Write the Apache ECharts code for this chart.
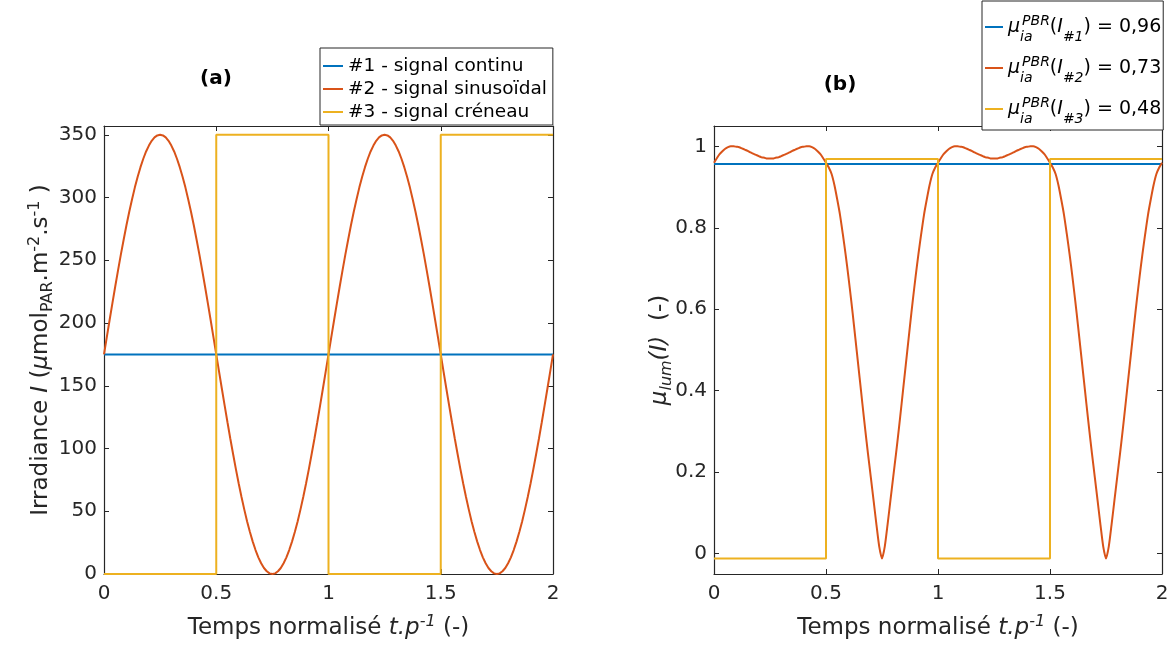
<!DOCTYPE html>
<html>
<head>
<meta charset="utf-8">
<script src="https://cdn.jsdelivr.net/npm/echarts@6/dist/echarts.min.js"></script>
<style>
html,body{margin:0;padding:0;background:#fff;}
#chart{width:1173px;height:646px;}
</style>
</head>
<body>
<div id="chart"></div>
<script>
// ---------- data ----------
const tGrid = [
0,0.0125,0.025,0.0375,0.05,0.0625,0.075,0.0875,0.1,0.1125,0.125,0.1375,0.15,0.1625,0.175,0.1875,0.2,0.2125,0.225,0.2375,
0.25,0.2625,0.275,0.2875,0.3,0.3125,0.325,0.3375,0.35,0.3625,0.375,0.3875,0.4,0.4125,0.425,0.4375,0.45,0.4625,0.475,0.4875,
0.5,0.5125,0.525,0.5375,0.55,0.5625,0.575,0.5875,0.6,0.6125,0.625,0.6375,0.65,0.6625,0.675,0.6875,0.7,0.7125,0.725,0.7375,
0.75,0.7625,0.775,0.7875,0.8,0.8125,0.825,0.8375,0.85,0.8625,0.875,0.8875,0.9,0.9125,0.925,0.9375,0.95,0.9625,0.975,0.9875,
1,1.0125,1.025,1.0375,1.05,1.0625,1.075,1.0875,1.1,1.1125,1.125,1.1375,1.15,1.1625,1.175,1.1875,1.2,1.2125,1.225,1.2375,
1.25,1.2625,1.275,1.2875,1.3,1.3125,1.325,1.3375,1.35,1.3625,1.375,1.3875,1.4,1.4125,1.425,1.4375,1.45,1.4625,1.475,1.4875,
1.5,1.5125,1.525,1.5375,1.55,1.5625,1.575,1.5875,1.6,1.6125,1.625,1.6375,1.65,1.6625,1.675,1.6875,1.7,1.7125,1.725,1.7375,
1.75,1.7625,1.775,1.7875,1.8,1.8125,1.825,1.8375,1.85,1.8625,1.875,1.8875,1.9,1.9125,1.925,1.9375,1.95,1.9625,1.975,1.9875,
2];

// (a) irradiance, #2 sinusoidal signal
const irrSinus = [
175,188.7,202.4,215.9,229.1,242,254.5,266.4,277.9,288.7,298.7,308.1,316.6,324.2,330.9,336.7,341.4,345.2,347.9,349.5,
350,349.5,347.9,345.2,341.4,336.7,330.9,324.2,316.6,308.1,298.7,288.7,277.9,266.4,254.5,242,229.1,215.9,202.4,188.7,
175,161.3,147.6,134.2,120.9,108,95.6,83.6,72.1,61.4,51.3,41.9,33.4,25.8,19.1,13.3,8.6,4.8,2.2,0.5,
0,0.5,2.2,4.8,8.6,13.3,19.1,25.8,33.4,41.9,51.3,61.4,72.1,83.6,95.6,108,120.9,134.2,147.6,161.3,
175,188.7,202.4,215.9,229.1,242,254.5,266.4,277.9,288.7,298.7,308.1,316.6,324.2,330.9,336.7,341.4,345.2,347.9,349.5,
350,349.5,347.9,345.2,341.4,336.7,330.9,324.2,316.6,308.1,298.7,288.7,277.9,266.4,254.5,242,229.1,215.9,202.4,188.7,
175,161.3,147.6,134.2,120.9,108,95.6,83.6,72.1,61.4,51.3,41.9,33.4,25.8,19.1,13.3,8.6,4.8,2.2,0.5,
0,0.5,2.2,4.8,8.6,13.3,19.1,25.8,33.4,41.9,51.3,61.4,72.1,83.6,95.6,108,120.9,134.2,147.6,161.3,
175];

// (b) growth rate for the sinusoidal signal
const muSinus = [
0.960,0.971,0.981,0.988,0.994,0.998,1.000,1.000,0.999,0.998,0.995,0.992,0.989,0.985,0.982,0.979,0.976,0.973,0.972,0.970,
0.970,0.970,0.972,0.973,0.976,0.979,0.982,0.985,0.989,0.992,0.995,0.998,0.999,1.000,1.000,0.998,0.994,0.988,0.981,0.971,
0.960,0.948,0.932,0.905,0.870,0.832,0.785,0.735,0.680,0.622,0.560,0.496,0.432,0.368,0.305,0.245,0.188,0.130,0.072,0.018,
-0.012,0.018,0.072,0.130,0.188,0.245,0.305,0.368,0.432,0.496,0.560,0.622,0.680,0.735,0.785,0.832,0.870,0.905,0.932,0.948,
0.960,0.971,0.981,0.988,0.994,0.998,1.000,1.000,0.999,0.998,0.995,0.992,0.989,0.985,0.982,0.979,0.976,0.973,0.972,0.970,
0.970,0.970,0.972,0.973,0.976,0.979,0.982,0.985,0.989,0.992,0.995,0.998,0.999,1.000,1.000,0.998,0.994,0.988,0.981,0.971,
0.960,0.948,0.932,0.905,0.870,0.832,0.785,0.735,0.680,0.622,0.560,0.496,0.432,0.368,0.305,0.245,0.188,0.130,0.072,0.018,
-0.012,0.018,0.072,0.130,0.188,0.245,0.305,0.368,0.432,0.496,0.560,0.622,0.680,0.735,0.785,0.832,0.870,0.905,0.932,0.948,
0.960];

// constant signal
const constT = [0, 2];
const irrConst = [175, 175];
const muConst = [0.957, 0.957];

// square signal
const squareT = [0, 0.5, 0.5, 1, 1, 1.5, 1.5, 2];
const irrSquare = [0, 0, 350, 350, 0, 0, 350, 350];
const muSquare = [-0.012, -0.012, 0.969, 0.969, -0.012, -0.012, 0.969, 0.969];

const xTicks = [0, 0.5, 1, 1.5, 2];
const yTicksA = [0, 50, 100, 150, 200, 250, 300, 350];
const yTicksB = [0, 0.2, 0.4, 0.6, 0.8, 1];

const legendA = ['#1 - signal continu', '#2 - signal sinusoïdal', '#3 - signal créneau'];
const legendBKeys = ['mu1', 'mu2', 'mu3'];
const legendBIndex = ['#1', '#2', '#3'];
const legendBValues = ['0,96', '0,73', '0,48'];

// ---------- chart ----------
const FONT = 'DejaVu Sans';
const AX = '#262626';
const C1 = '#0072BD', C2 = '#D95319', C3 = '#EDB120';

const zip = (xs, ys) => xs.map((x, i) => [x, ys[i]]);

function baseAxis(extra) {
  return Object.assign({
    type: 'value',
    nameMoveOverlap: false,
    axisLine: { show: true, onZero: false, lineStyle: { color: AX, width: 1.2 } },
    axisTick: { show: true, inside: true, length: 5, lineStyle: { color: AX, width: 1 } },
    axisLabel: { show: true, color: AX, fontFamily: FONT, fontSize: 20 },
    splitLine: { show: false }
  }, extra);
}

const nameRich = {
  n: { fontFamily: FONT, fontSize: 23, color: AX },
  i: { fontFamily: FONT, fontSize: 23, fontStyle: 'italic', color: AX },
  sub: { fontFamily: FONT, fontSize: 16, color: AX, padding: [14, 0, 0, 0] },
  subi: { fontFamily: FONT, fontSize: 16, fontStyle: 'italic', color: AX, padding: [14, 0, 0, 0] },
  sup: { fontFamily: FONT, fontSize: 16, color: AX, padding: [0, 0, 12, 0] },
  supi: { fontFamily: FONT, fontSize: 16, fontStyle: 'italic', color: AX, padding: [0, 0, 12, 0] }
};

const xName = '{n|Temps normalisé }{i|t.p}{supi|-1}{n| (-)}';

const chart = echarts.init(document.getElementById('chart'), null, { renderer: 'canvas' });

const gridA = { left: 104, right: 620, top: 126, bottom: 72 };
const gridB = { left: 714, right: 11, top: 126, bottom: 72 };

function tickCfg(vals) {
  return { show: true, inside: true, length: 5, customValues: vals, lineStyle: { color: AX, width: 1 } };
}

const option = {
  animation: false,
  backgroundColor: '#fff',
  grid: [Object.assign({ show: false }, gridA), Object.assign({ show: false }, gridB)],
  xAxis: [
    baseAxis({ gridIndex: 0, min: 0, max: 2, position: 'bottom',
      axisTick: tickCfg(xTicks),
      axisLabel: { color: AX, fontFamily: FONT, fontSize: 20, margin: 10, customValues: xTicks },
      name: xName, nameLocation: 'middle', nameGap: 40,
      nameTextStyle: { rich: nameRich } }),
    baseAxis({ gridIndex: 0, min: 0, max: 2, position: 'top',
      axisTick: tickCfg(xTicks), axisLabel: { show: false } }),
    baseAxis({ gridIndex: 1, min: 0, max: 2, position: 'bottom',
      axisTick: tickCfg(xTicks),
      axisLabel: { color: AX, fontFamily: FONT, fontSize: 20, margin: 10, customValues: xTicks },
      name: xName, nameLocation: 'middle', nameGap: 40,
      nameTextStyle: { rich: nameRich } }),
    baseAxis({ gridIndex: 1, min: 0, max: 2, position: 'top',
      axisTick: tickCfg(xTicks), axisLabel: { show: false } })
  ],
  yAxis: [
    baseAxis({ gridIndex: 0, min: 0, max: 357, position: 'left',
      axisTick: tickCfg(yTicksA),
      axisLabel: { color: AX, fontFamily: FONT, fontSize: 20, margin: 7, customValues: yTicksA },
      name: '{n|Irradiance }{i|I}{n| (}{i|μ}{n|mol}{sub|PAR}{n|.m}{sup|-2}{n|.s}{sup|-1}{n| )}',
      nameLocation: 'middle', nameRotate: 90, nameGap: 48,
      nameTextStyle: { rich: nameRich } }),
    baseAxis({ gridIndex: 0, min: 0, max: 357, position: 'right',
      axisTick: tickCfg(yTicksA), axisLabel: { show: false } }),
    baseAxis({ gridIndex: 1, min: -0.05, max: 1.05, position: 'left',
      axisTick: tickCfg(yTicksB),
      axisLabel: { color: AX, fontFamily: FONT, fontSize: 20, margin: 7, customValues: yTicksB },
      name: '{i|μ}{subi|lum}{i|(I)}{n|  (-)}',
      nameLocation: 'middle', nameRotate: 90, nameGap: 39,
      nameTextStyle: { rich: nameRich } }),
    baseAxis({ gridIndex: 1, min: -0.05, max: 1.05, position: 'right',
      axisTick: tickCfg(yTicksB), axisLabel: { show: false } })
  ],
  legend: [
    {
      data: legendA,
      orient: 'vertical',
      left: 320, top: 48,
      padding: [8, 6, 3, 3],
      itemGap: 3,
      itemWidth: 20, itemHeight: 2,
      itemTextGap: 5,
      icon: 'rect',
      selectedMode: false,
      backgroundColor: '#fff',
      borderColor: AX, borderWidth: 1, borderRadius: 0,
      textStyle: { fontFamily: FONT, fontSize: 18.5, color: '#000', lineHeight: 20 }
    },
    {
      data: legendBKeys,
      orient: 'vertical',
      left: 982, top: 1,
      padding: [6, 2, 1, 3],
      itemGap: 1,
      itemWidth: 18, itemHeight: 2,
      itemTextGap: 5,
      icon: 'rect',
      selectedMode: false,
      backgroundColor: '#fff',
      borderColor: AX, borderWidth: 1, borderRadius: 0,
      formatter: function (name) {
        const k = legendBKeys.indexOf(name);
        return '{m|μ}{ia|ia}{pbr|PBR}{n|(}{i|I}{idx|' + legendBIndex[k] + '}{n|) = ' + legendBValues[k] + '}';
      },
      textStyle: {
        fontFamily: FONT, fontSize: 19, color: '#000', lineHeight: 40,
        rich: {
          m: { fontFamily: FONT, fontSize: 19, fontStyle: 'italic', color: '#000' },
          n: { fontFamily: FONT, fontSize: 19, color: '#000' },
          i: { fontFamily: FONT, fontSize: 19, fontStyle: 'italic', color: '#000' },
          ia: { fontFamily: FONT, fontSize: 14, fontStyle: 'italic', color: '#000', width: 2, padding: [20, 0, 0, 0] },
          pbr: { fontFamily: FONT, fontSize: 14, fontStyle: 'italic', color: '#000', padding: [0, 0, 12, 0] },
          idx: { fontFamily: FONT, fontSize: 14, fontStyle: 'italic', color: '#000', padding: [20, 0, 0, 0] }
        }
      }
    }
  ],
  graphic: [
    { type: 'text', x: 216, y: 79, style: { text: '(a)', fontFamily: FONT, fontSize: 20, fontWeight: 'bold', fill: '#000', align: 'center', verticalAlign: 'middle' } },
    { type: 'text', x: 840, y: 85, style: { text: '(b)', fontFamily: FONT, fontSize: 20, fontWeight: 'bold', fill: '#000', align: 'center', verticalAlign: 'middle' } }
  ],
  series: [
    { name: legendA[0], type: 'line', xAxisIndex: 0, yAxisIndex: 0, data: zip(constT, irrConst),
      showSymbol: false, symbol: 'none', lineStyle: { color: C1, width: 2 }, itemStyle: { color: C1 }, clip: false },
    { name: legendA[1], type: 'line', xAxisIndex: 0, yAxisIndex: 0, data: zip(tGrid, irrSinus),
      showSymbol: false, symbol: 'none', lineStyle: { color: C2, width: 2 }, itemStyle: { color: C2 }, clip: false },
    { name: legendA[2], type: 'line', xAxisIndex: 0, yAxisIndex: 0, data: zip(squareT, irrSquare),
      showSymbol: false, symbol: 'none', lineStyle: { color: C3, width: 2 }, itemStyle: { color: C3 }, clip: false },
    { name: 'mu1', type: 'line', xAxisIndex: 2, yAxisIndex: 2, data: zip(constT, muConst),
      showSymbol: false, symbol: 'none', lineStyle: { color: C1, width: 2 }, itemStyle: { color: C1 }, clip: false },
    { name: 'mu2', type: 'line', xAxisIndex: 2, yAxisIndex: 2, data: zip(tGrid, muSinus), smooth: 0.25,
      showSymbol: false, symbol: 'none', lineStyle: { color: C2, width: 2 }, itemStyle: { color: C2 }, clip: false },
    { name: 'mu3', type: 'line', xAxisIndex: 2, yAxisIndex: 2, data: zip(squareT, muSquare),
      showSymbol: false, symbol: 'none', lineStyle: { color: C3, width: 2 }, itemStyle: { color: C3 }, clip: false }
  ]
};

chart.setOption(option);
</script>
</body>
</html>
